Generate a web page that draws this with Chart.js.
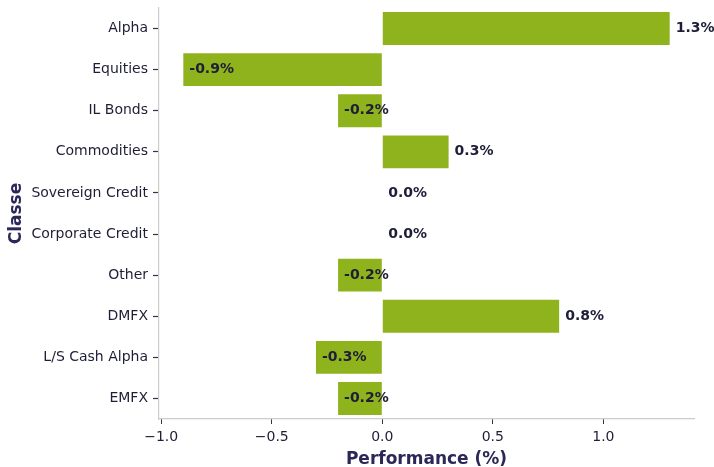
<!DOCTYPE html>
<html>
<head>
<meta charset="utf-8">
<script src="https://cdn.jsdelivr.net/npm/chart.js@4/dist/chart.umd.min.js"></script>
<style>
  html, body { margin: 0; padding: 0; background: #fff; }
  #wrap { width: 714px; height: 467px; }
</style>
</head>
<body>
<div id="wrap"><canvas id="perfChart"></canvas></div>
<script>
// data
const classes = ['Alpha', 'Equities', 'IL Bonds', 'Commodities', 'Sovereign Credit',
                 'Corporate Credit', 'Other', 'DMFX', 'L/S Cash Alpha', 'EMFX'];
const performance = [1.3, -0.9, -0.2, 0.3, 0.0, 0.0, -0.2, 0.8, -0.3, -0.2];
const xTicks = [-1.0, -0.5, 0.0, 0.5, 1.0];

const barColor = '#8fb31d';
const textColor = '#1e1e36';
const titleColor = '#2b2858';

// value labels drawn at the bar end, left-aligned
const valueLabels = {
    id: 'valueLabels',
    afterDatasetsDraw(chart) {
        const ctx = chart.ctx;
        const meta = chart.getDatasetMeta(0);
        const xScale = chart.scales.x;
        ctx.save();
        ctx.font = 'bold 14px "DejaVu Sans"';
        ctx.fillStyle = textColor;
        ctx.textAlign = 'left';
        ctx.textBaseline = 'middle';
        meta.data.forEach((bar, i) => {
            const v = performance[i];
            const x = xScale.getPixelForValue(v) + 6;
            ctx.fillText(v.toFixed(1) + '%', x, bar.y);
        });
        ctx.restore();
    }
};

new Chart(document.getElementById('perfChart').getContext('2d'), {
    type: 'bar',
    data: {
        labels: classes,
        datasets: [{
            data: performance,
            backgroundColor: barColor,
            borderWidth: 0,
            categoryPercentage: 1.0,
            barPercentage: 0.8
        }]
    },
    options: {
        indexAxis: 'y',
        responsive: true,
        maintainAspectRatio: false,
        animation: false,
        layout: { padding: { top: 8, right: 20, bottom: 0, left: 0 } },
        plugins: {
            legend: { display: false },
            tooltip: { enabled: false }
        },
        scales: {
            x: {
                min: -1.01,
                max: 1.41,
                afterBuildTicks(scale) {
                    scale.ticks = xTicks.map(v => ({ value: v }));
                },
                afterFit(scale) { scale.height = 48; },
                grid: {
                    drawOnChartArea: false,
                    drawTicks: true,
                    tickLength: 5,
                    tickColor: '#333344'
                },
                border: { color: '#cccccc', width: 1.2 },
                ticks: {
                    color: textColor,
                    font: { family: 'DejaVu Sans', size: 14 },
                    padding: 5,
                    maxRotation: 0,
                    callback: v => (v < 0 ? '\u2212' : '') + Math.abs(v).toFixed(1)
                },
                title: {
                    display: true,
                    text: 'Performance (%)',
                    color: titleColor,
                    font: { family: 'DejaVu Sans', size: 17, weight: 'bold' },
                    padding: { top: 4, bottom: -3 }
                }
            },
            y: {
                offset: true,
                afterFit(scale) {
                    scale.width = 159;
                    scale.paddingTop = 0;
                    scale.paddingBottom = 0;
                },
                grid: {
                    offset: false,
                    drawOnChartArea: false,
                    drawTicks: true,
                    tickLength: 6,
                    tickWidth: 1.2,
                    tickColor: '#333344'
                },
                border: { color: '#cccccc', width: 1.2 },
                ticks: {
                    color: textColor,
                    font: { family: 'DejaVu Sans', size: 14 },
                    padding: 5
                },
                title: {
                    display: true,
                    text: 'Classe',
                    color: titleColor,
                    font: { family: 'DejaVu Sans', size: 17, weight: 'bold' },
                    padding: { top: 6, bottom: 0 }
                }
            }
        }
    },
    plugins: [valueLabels]
});
</script>
</body>
</html>
